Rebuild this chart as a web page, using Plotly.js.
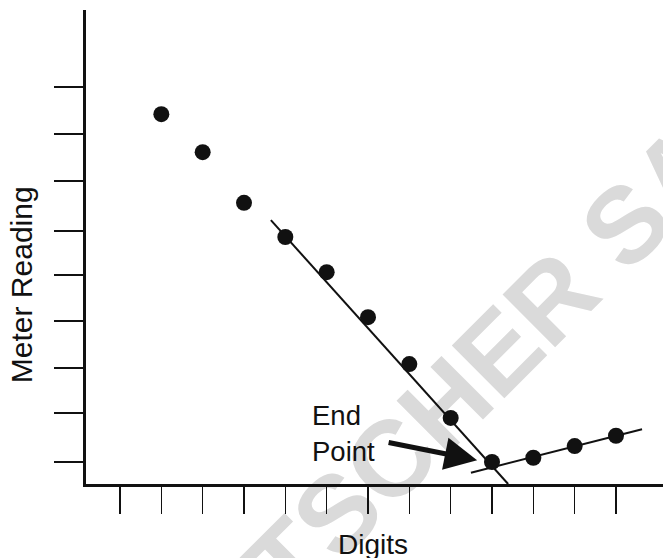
<!DOCTYPE html>
<html>
<head>
<meta charset="utf-8">
<script src="https://cdn.plot.ly/plotly-3.0.1.min.js"></script>
<style>html,body{margin:0;padding:0;background:#fff;}#chart{width:663px;height:558px;}</style>
</head>
<body>
<div id="chart"></div>
<script>
// Data (arbitrary units: one tick = one unit)
var digits = [2, 3, 4, 5, 6, 7, 8, 9, 10, 11, 12, 13];
var meterReading = [8.42, 7.61, 6.53, 5.80, 5.05, 4.09, 3.09, 1.94, 1.00, 1.09, 1.34, 1.56];
var steepLineX = [4.65, 10.39];
var steepLineY = [6.16, 0.53];
var shallowLineX = [9.49, 13.63];
var shallowLineY = [0.77, 1.70];
var xTickVals = [1, 2, 3, 4, 5, 6, 7, 8, 9, 10, 11, 12, 13];
var yTickVals = [1, 2.05, 3, 4, 5, 5.93, 7, 8, 9];
var endPointX = 9.64;
var endPointY = 1.04;

var ink = '#111111';
var font = 'Liberation Sans, Arial, Helvetica, sans-serif';

var traces = [
  {x: steepLineX, y: steepLineY, mode: 'lines', line: {color: ink, width: 2}, hoverinfo: 'skip'},
  {x: shallowLineX, y: shallowLineY, mode: 'lines', line: {color: ink, width: 2}, hoverinfo: 'skip'},
  {x: digits, y: meterReading, mode: 'markers', marker: {color: ink, size: 16}, cliponaxis: false}
];

var layout = {
  width: 663, height: 558,
  margin: {l: 86, r: 0, t: 10, b: 74},
  paper_bgcolor: '#ffffff', plot_bgcolor: '#ffffff',
  showlegend: false,
  font: {family: font, color: ink},
  xaxis: {
    range: [0.1774, 14.137], showgrid: false, zeroline: false,
    showline: true, linecolor: ink, linewidth: 3,
    ticks: 'outside', tickvals: xTickVals, ticklen: 27, tickwidth: 1.6, tickcolor: ink,
    showticklabels: false
  },
  yaxis: {
    range: [0.5307, 10.643], showgrid: false, zeroline: false,
    showline: true, linecolor: ink, linewidth: 3,
    ticks: 'outside', tickvals: yTickVals, ticklen: 29, tickwidth: 2, tickcolor: ink,
    showticklabels: false
  },
  shapes: [{
    type: 'rect', xref: 'paper', yref: 'paper', layer: 'below',
    x0: 0.665, x1: 0.695, y0: 0.258, y1: 0.278,
    line: {width: 0, color: 'rgba(0,0,0,0)'}, fillcolor: 'rgba(0,0,0,0)',
    label: {text: '<b>TSCHER SA</b>', textangle: -45, textposition: 'middle center',
      font: {family: font, size: 108, color: '#dadada'}}
  }],
  annotations: [
    {xref: 'paper', yref: 'paper', x: -0.1105, y: 0.42, text: 'Meter Reading', textangle: -90,
      showarrow: false, xanchor: 'center', yanchor: 'middle', font: {family: font, size: 30, color: ink}},
    {xref: 'paper', yref: 'paper', x: 0.4975, y: -0.128, text: 'Digits',
      showarrow: false, xanchor: 'center', yanchor: 'middle', font: {family: font, size: 28, color: ink}},
    {xref: 'paper', yref: 'paper', x: 0.388, y: 0.106, text: 'End<br>Point', align: 'left',
      showarrow: false, xanchor: 'left', yanchor: 'middle', font: {family: font, size: 27.5, color: ink}},
    {x: endPointX, y: endPointY, xref: 'x', yref: 'y', text: '', showarrow: true,
      ax: -90, ay: -18, arrowhead: 2, arrowsize: 1.3, arrowwidth: 5, arrowcolor: ink, standoff: 0}
  ]
};

Plotly.newPlot('chart', traces, layout, {displayModeBar: false, staticPlot: true});
</script>
</body>
</html>
